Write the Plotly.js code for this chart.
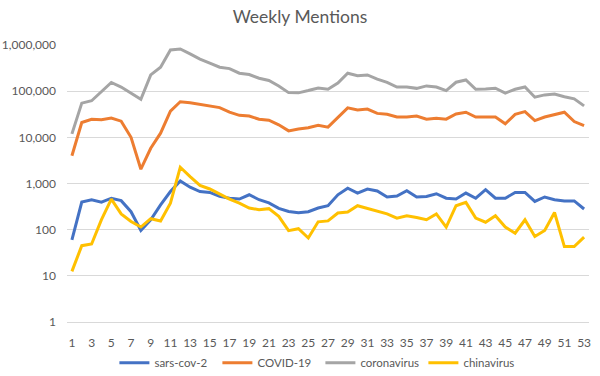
<!DOCTYPE html>
<html>
<head>
<meta charset="utf-8">
<script src="https://cdn.plot.ly/plotly-3.0.1.min.js"></script>
<style>html,body{margin:0;padding:0;background:#fff;}#chart{width:600px;height:376px;}</style>
</head>
<body>
<div id="chart"></div>
<script>
const weeks = [1,2,3,4,5,6,7,8,9,10,11,12,13,14,15,16,17,18,19,20,21,22,23,24,25,26,27,28,29,30,31,32,33,34,35,36,37,38,39,40,41,42,43,44,45,46,47,48,49,50,51,52,53];
const tickWeeks = [1,3,5,7,9,11,13,15,17,19,21,23,25,27,29,31,33,35,37,39,41,43,45,47,49,51,53];
const tickLabels = ["1","3","5","7","9","11","13","15","17","19","21","23","25","27","29","31","33","35","37","39","41","43","45","47","49","51","53"];
const yTickVals = [1,10,100,1000,10000,100000,1000000];
const yTickText = ["1","10","100","1,000","10,000","100,000","1,000,000"];

const sarsCov2 = [60,395,445,395,480,425,245,96,164,345,670,1140,830,670,640,525,480,460,570,445,380,290,247,232,245,295,330,570,790,620,760,690,510,535,695,510,525,600,480,460,620,480,735,480,480,640,640,410,510,445,420,420,280];
const covid19 = [4000,21000,24600,24000,26300,22400,10000,2040,5800,12300,37000,59000,56000,52000,48000,44000,35000,30000,29000,24600,23500,18700,13800,15200,16100,18300,16600,27000,43500,39000,41000,33000,31500,27500,27500,29000,24700,26000,24700,32000,35000,27500,27500,27500,19600,31500,36000,23000,27500,31000,35000,22000,18000];
const coronavirus = [11900,55000,62000,98000,154000,123000,91000,67000,225000,330000,780000,820000,640000,495000,405000,330000,308000,245000,229000,191000,170000,130000,93000,92000,103000,117000,110000,150000,245000,215000,225000,182000,155000,123000,123000,115000,130000,123000,103000,156000,175000,110000,112000,116000,91000,110000,123000,74000,83000,87000,76000,68000,48000];
const chinavirus = [12.5,45,49,165,460,220,150,114,173,154,375,2250,1410,910,760,590,460,375,295,270,285,195,95,105,66,148,155,230,240,330,285,255,220,178,200,184,164,220,114,330,390,178,145,200,114,84,164,71,96,235,43,43,69];

const names = ["sars-cov-2","COVID-19","coronavirus","chinavirus"];
const colors = ["#4472C4","#ED7D31","#A5A5A5","#FFC000"];
const series = [sarsCov2, covid19, coronavirus, chinavirus];

const font = "Lato, 'Open Sans', sans-serif";
const traces = series.map((s, i) => ({
  x: weeks, y: s, name: names[i], type: "scatter", mode: "lines",
  line: {color: colors[i], width: 3, shape: "linear"},
  hoverinfo: "x+y+name"
}));

const layout = {
  width: 600, height: 376,
  margin: {l: 67, r: 11, t: 45, b: 54, pad: 0, autoexpand: false},
  paper_bgcolor: "#ffffff", plot_bgcolor: "#ffffff",
  font: {family: font, size: 12, color: "#595959"},
  title: {text: "Weekly Mentions", font: {family: font, size: 17.5, color: "#595959"},
          x: 0.5, xanchor: "center", y: 0.955, yanchor: "middle", yref: "container"},
  showlegend: true,
  legend: {orientation: "h", x: 0.534, xanchor: "center", xref: "container",
           y: 0.035, yanchor: "middle", yref: "container",
           font: {family: font, size: 11.5, color: "#595959"}, itemwidth: 30,
           entrywidth: 58, traceorder: "normal"},
  xaxis: {
    type: "linear", range: [0.5, 53.5], tickmode: "array",
    tickvals: tickWeeks, ticktext: tickLabels,
    showgrid: false, zeroline: false, showline: true, linecolor: "#D9D9D9", linewidth: 1,
    ticks: "", ticklabelstandoff: 10, tickfont: {family: font, size: 12, color: "#595959"},
    fixedrange: true
  },
  yaxis: {
    type: "log", range: [0, 6], tickmode: "array",
    tickvals: yTickVals, ticktext: yTickText,
    showgrid: true, gridcolor: "#D9D9D9", gridwidth: 1, zeroline: false, showline: false,
    ticks: "", ticklabelstandoff: 10, tickfont: {family: font, size: 12, color: "#595959"},
    fixedrange: true
  }
};

Plotly.newPlot("chart", traces, layout, {displayModeBar: false, staticPlot: true});
</script>
</body>
</html>
